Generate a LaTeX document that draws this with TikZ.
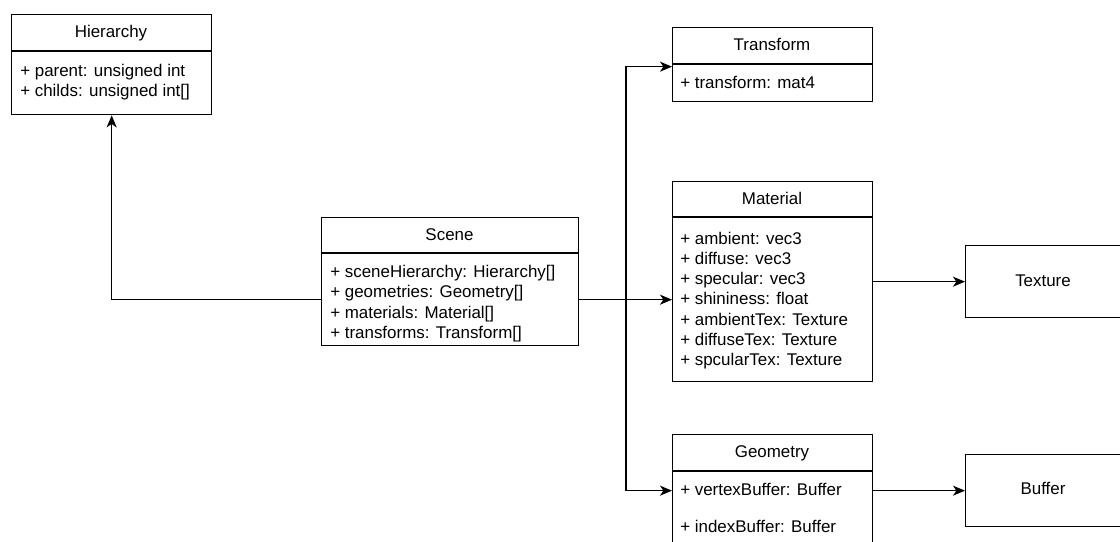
\documentclass[tikz,border=0pt]{standalone}
\usepackage{fontspec}
\setmainfont{Liberation Sans}
\usetikzlibrary{arrows.meta,calc}
\begin{document}
\begin{tikzpicture}[x=0.75pt,y=-0.75pt,
  box/.style={draw, line width=1pt, anchor=north west, inner sep=0pt},
  attr/.style={anchor=base west, inner sep=0pt, font=\fontsize{12.7}{14}\selectfont},
  ttl/.style={anchor=base, inner sep=0pt, font=\fontsize{12.7}{14}\selectfont},
  conn/.style={line width=1pt, -{Stealth[length=9pt,width=7.5pt,inset=2.5pt]}},
  divider/.style={line width=1pt}]
\useasboundingbox (0,0) rectangle (1120,542);
\clip (0,0) rectangle (1120,542);
\fill[white] (0,0) rectangle (1120,542);

% Hierarchy
\node[box, minimum width=150pt, minimum height=75pt] (hier) at (11,14) {};
\draw[divider] (11,51) -- (211,51);
\node[ttl] (hiert) at (111,37.5) {Hierarchy};
\node[attr] (hiera1) at (20,76.5) {+ parent: unsigned int};
\node[attr] (hiera2) at (20,96.5) {+ childs: unsigned int[]};

% Scene
\node[box, minimum width=192.75pt, minimum height=96pt] (scene) at (321,217) {};
\draw[divider] (321,253) -- (578,253);
\node[ttl] (scenet) at (449.5,240.5) {Scene};
\node[attr] (scenea1) at (330,277.5) {+ sceneHierarchy: Hierarchy[]};
\node[attr] (scenea2) at (330,297.5) {+ geometries: Geometry[]};
\node[attr] (scenea3) at (330,318) {+ materials: Material[]};
\node[attr] (scenea4) at (330,338.5) {+ transforms: Transform[]};

% Transform
\node[box, minimum width=150pt, minimum height=55.5pt] (transform) at (672,27) {};
\draw[divider] (672,64) -- (872,64);
\node[ttl] (transformt) at (772,50.5) {Transform};
\node[attr] (transforma1) at (680,88.5) {+ transform: mat4};

% Material
\node[box, minimum width=150pt, minimum height=150pt] (material) at (672,181) {};
\draw[divider] (672,217) -- (872,217);
\node[ttl] (materialt) at (772,204.5) {Material};
\node[attr] (materiala1) at (680,244.5) {+ ambient: vec3};
\node[attr] (materiala2) at (680,264.5) {+ diffuse: vec3};
\node[attr] (materiala3) at (680,284.5) {+ specular: vec3};
\node[attr] (materiala4) at (680,304.5) {+ shininess: float};
\node[attr] (materiala5) at (680,325) {+ ambientTex: Texture};
\node[attr] (materiala6) at (680,345.5) {+ diffuseTex: Texture};
\node[attr] (materiala7) at (680,365.5) {+ spcularTex: Texture};

% Texture
\node[box, minimum width=117pt, minimum height=54pt] (texture) at (965,245) {};
\node[ttl] (texturet) at (1043,286.5) {Texture};

% Geometry
\node[box, minimum width=150pt, minimum height=84pt] (geometry) at (672,434) {};
\draw[divider] (672,471) -- (872,471);
\node[ttl] (geometryt) at (772,457.5) {Geometry};
\node[attr] (geometrya1) at (680,495.5) {+ vertexBuffer: Buffer};
\node[attr] (geometrya2) at (680,532.5) {+ indexBuffer: Buffer};

% Buffer
\node[box, minimum width=117pt, minimum height=54pt] (buffer) at (965,454) {};
\node[ttl] (buffert) at (1043,494.5) {Buffer};

% Connectors
\draw[conn] ($(scene.west)+(0,18)$) -| (hier.south);
\draw[conn] ($(scene.east)+(0,18)$) -- ($(material.west)+(0,18)$);
\coordinate (br) at (626,299);
\draw[conn] (br) |- ($(transform.west)+(0,2)$);
\draw[conn] (br) |- (geometry.west);
\draw[conn] (material.east) -- (texture.west);
\draw[conn] (geometry.east) -- (buffer.west);
\end{tikzpicture}
\end{document}
